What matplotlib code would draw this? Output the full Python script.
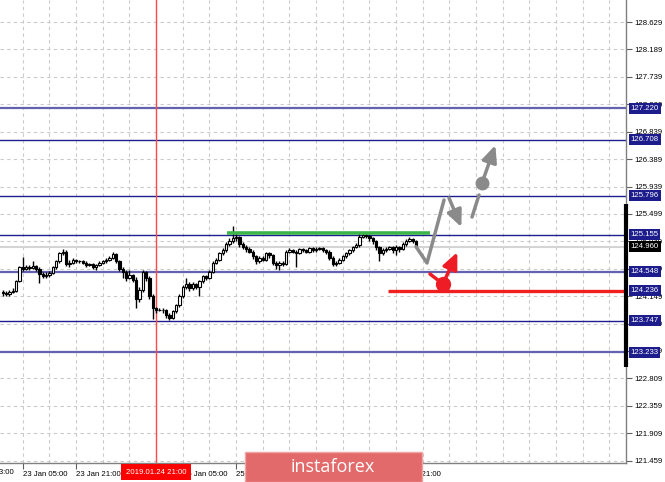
import numpy as np
import matplotlib
matplotlib.use('Agg')
import matplotlib.pyplot as plt
import matplotlib.transforms as mtransforms
from matplotlib.patches import Rectangle

plt.rcParams['font.family'] = ['Liberation Sans', 'DejaVu Sans']

# hourly candles, index 0 = 23 Jan 05:00
bar_start = -6
opens = [124.22, 124.20, 124.18, 124.22, 124.24, 124.40, 124.62, 124.60, 124.63, 124.61,
         124.64, 124.60, 124.52, 124.48, 124.50, 124.53, 124.62, 124.72, 124.85, 124.88,
         124.68, 124.70, 124.74, 124.73, 124.72, 124.70, 124.66, 124.67, 124.63, 124.66,
         124.70, 124.72, 124.75, 124.78, 124.84, 124.72, 124.60, 124.55, 124.45, 124.50,
         124.42, 124.10, 124.25, 124.55, 124.45, 124.15, 123.95, 123.92, 123.93, 123.92,
         123.85, 123.80, 123.90, 124.00, 124.15, 124.30, 124.35, 124.28, 124.35, 124.30,
         124.40, 124.48, 124.45, 124.55, 124.70, 124.75, 124.85, 124.90, 125.00, 125.05,
         125.10, 125.12, 125.00, 124.95, 124.92, 124.88, 124.80, 124.72, 124.78, 124.75,
         124.85, 124.82, 124.70, 124.66, 124.70, 124.68, 124.88, 124.90, 124.88, 124.86,
         124.92, 124.90, 124.88, 124.94, 124.90, 124.92, 124.93, 124.90, 124.88, 124.78,
         124.68, 124.70, 124.75, 124.80, 124.85, 124.90, 124.95, 124.98, 125.12, 125.15,
         125.13, 125.10, 125.05, 124.95, 124.85, 124.90, 124.92, 124.95, 124.90, 124.95,
         124.92, 125.00, 125.05, 125.08, 125.05]
highs = [124.25, 124.23, 124.25, 124.28, 124.42, 124.65, 124.79, 124.66, 124.66, 124.72,
         124.66, 124.62, 124.54, 124.54, 124.57, 124.64, 124.75, 124.88, 124.92, 124.90,
         124.75, 124.77, 124.76, 124.75, 124.74, 124.72, 124.70, 124.69, 124.68, 124.72,
         124.74, 124.77, 124.80, 124.88, 124.86, 124.74, 124.62, 124.58, 124.58, 124.52,
         124.46, 124.30, 124.58, 124.57, 124.48, 124.18, 123.97, 123.95, 123.95, 123.94,
         123.88, 123.92, 124.03, 124.18, 124.33, 124.45, 124.38, 124.38, 124.37, 124.42,
         124.50, 124.50, 124.58, 124.72, 124.78, 124.88, 124.93, 125.03, 125.10, 125.30,
         125.18, 125.14, 125.03, 124.98, 124.95, 124.90, 124.83, 124.80, 124.80, 124.88,
         124.88, 124.84, 124.72, 124.73, 124.72, 124.90, 124.93, 124.92, 124.90, 124.94,
         124.94, 124.92, 124.96, 124.96, 124.95, 124.96, 124.95, 124.92, 124.90, 124.80,
         124.73, 124.77, 124.82, 124.87, 124.92, 124.97, 125.02, 125.18, 125.20, 125.19,
         125.16, 125.12, 125.07, 124.97, 124.93, 124.95, 124.97, 124.97, 124.98, 124.97,
         125.03, 125.08, 125.12, 125.10, 125.07]
lows = [124.16, 124.15, 124.16, 124.20, 124.22, 124.38, 124.56, 124.58, 124.58, 124.59,
        124.57, 124.37, 124.45, 124.45, 124.47, 124.51, 124.60, 124.70, 124.82, 124.64,
        124.62, 124.68, 124.70, 124.70, 124.67, 124.63, 124.64, 124.60, 124.58, 124.64,
        124.68, 124.70, 124.73, 124.76, 124.70, 124.56, 124.45, 124.40, 124.43, 124.38,
        123.95, 124.05, 124.22, 124.40, 124.10, 123.78, 123.88, 123.90, 123.88, 123.80,
        123.76, 123.77, 123.88, 123.98, 124.12, 124.27, 124.24, 124.25, 124.26, 124.15,
        124.37, 124.42, 124.43, 124.53, 124.67, 124.72, 124.82, 124.88, 124.97, 125.02,
        125.05, 124.96, 124.92, 124.88, 124.85, 124.76, 124.68, 124.70, 124.72, 124.73,
        124.78, 124.66, 124.60, 124.58, 124.64, 124.66, 124.85, 124.85, 124.62, 124.84,
        124.87, 124.85, 124.86, 124.87, 124.88, 124.90, 124.87, 124.84, 124.74, 124.64,
        124.65, 124.68, 124.73, 124.78, 124.83, 124.88, 124.93, 124.96, 125.10, 125.10,
        125.06, 125.00, 124.90, 124.72, 124.82, 124.88, 124.90, 124.86, 124.82, 124.88,
        124.90, 124.97, 125.03, 125.02, 124.93]
closes = [124.20, 124.18, 124.22, 124.24, 124.40, 124.62, 124.60, 124.63, 124.61, 124.64,
          124.60, 124.52, 124.48, 124.50, 124.53, 124.62, 124.72, 124.85, 124.88, 124.68,
          124.70, 124.74, 124.73, 124.72, 124.70, 124.66, 124.67, 124.63, 124.66, 124.70,
          124.72, 124.75, 124.78, 124.84, 124.72, 124.60, 124.55, 124.45, 124.50, 124.42,
          124.10, 124.25, 124.55, 124.45, 124.15, 123.95, 123.92, 123.93, 123.92, 123.85,
          123.80, 123.90, 124.00, 124.15, 124.30, 124.35, 124.28, 124.35, 124.30, 124.40,
          124.48, 124.45, 124.55, 124.70, 124.75, 124.85, 124.90, 125.00, 125.05, 125.10,
          125.12, 125.00, 124.95, 124.92, 124.88, 124.80, 124.72, 124.78, 124.75, 124.85,
          124.82, 124.70, 124.66, 124.70, 124.68, 124.88, 124.90, 124.88, 124.86, 124.92,
          124.90, 124.88, 124.94, 124.90, 124.92, 124.93, 124.90, 124.88, 124.78, 124.68,
          124.70, 124.75, 124.80, 124.85, 124.90, 124.95, 124.98, 125.12, 125.15, 125.13,
          125.10, 125.05, 124.95, 124.85, 124.90, 124.92, 124.95, 124.90, 124.95, 124.92,
          125.00, 125.05, 125.08, 125.05, 124.96]

levels = [127.220, 126.708, 125.796, 125.155, 124.548, 123.747, 123.233]
level_light = [True, False, False, False, True, False, True]
support_red = 124.236
current_price = 124.960
resist_green = 125.183

price_ticks = [128.629, 128.189, 127.739, 127.289, 126.839, 126.389, 125.939, 125.499,
               125.049, 124.599, 124.149, 123.699, 123.259, 122.809, 122.359, 121.909, 121.459]
time_tick_pos = [0, 16, 32, 48, 64, 80, 96, 112]
time_tick_labels = ['23 Jan 05:00', '23 Jan 21:00', '24 Jan 13:00', '25 Jan 05:00',
                    '25 Jan 21:00', '28 Jan 13:00', '29 Jan 05:00', '29 Jan 21:00']
first_label_pos = -16
first_label = '22 Jan 13:00'
marker_bar = 40
marker_label = '2019.01.24 21:00'

# forecast sketch (bar index, price)
gray_path_x = [118, 121.3, 126.4]
gray_path_y = [124.96, 124.693, 125.723]
gray_arrow1 = [(127.9, 125.756), (131.6, 125.28)]
gray_seg_x = [134.8, 136.9]
gray_seg_y = [125.445, 125.805]
gray_dot = (137.8, 126.001)
gray_arrow2 = [(137.8, 126.001), (141.8, 126.62)]
red_path_x = [122.2, 126.1]
red_path_y = [124.513, 124.349]
red_dot = (126.1, 124.349)
red_arrow = [(126.1, 124.349), (130.4, 124.87)]

fig = plt.figure(figsize=(6.65, 4.82), dpi=100)
ax = fig.add_axes([0, 19 / 482, 626 / 665, 463 / 482])

# grid
grid_kw = dict(color='#cacaca', lw=0.8, ls=(0, (3, 3)), zorder=0)
for p in price_ticks:
    ax.axhline(p, **grid_kw)
for gx in range(-8, 182, 8):
    ax.axvline(gx, **grid_kw)

# levels
for lv, light in zip(levels, level_light):
    if light:
        ax.axhline(lv, color='#6262b0', lw=1.6, zorder=1)
    else:
        ax.axhline(lv, color='#1e1e8c', lw=1.0, zorder=1)
ax.axhline(current_price, color='#d4d4d4', lw=1.5, zorder=1)
ax.axvline(marker_bar, color='#ff4a4a', lw=1.0, zorder=1)

# candles
idx = np.arange(bar_start, bar_start + len(closes))
o = np.array(opens)
h = np.array(highs)
l = np.array(lows)
c = np.array(closes)
ax.vlines(idx, l, h, color='black', lw=1.0, zorder=3)
bull = c >= o
body_lo = np.minimum(o, c)
body_h = np.maximum(np.abs(c - o), 0.01)
ax.bar(idx[bull], body_h[bull], bottom=body_lo[bull], width=0.7, color='white',
       edgecolor='black', linewidth=0.8, zorder=4)
ax.bar(idx[~bull], body_h[~bull], bottom=body_lo[~bull], width=0.7, color='black',
       edgecolor='black', linewidth=0.8, zorder=4)

# green resistance and red support
ax.plot([61.3, 122.2], [resist_green, resist_green], color='#3cb54a', lw=2.6, zorder=5,
        solid_capstyle='butt')
ax.plot([109.6, 181.0], [support_red, support_red], color='#f02020', lw=2.4, zorder=5,
        solid_capstyle='butt')

# forecast sketch
gray = '#8a8a8a'
ax.plot(gray_path_x, gray_path_y, color=gray, lw=2.5, zorder=6, solid_capstyle='round')
ax.plot(gray_seg_x, gray_seg_y, color=gray, lw=2.5, zorder=6, solid_capstyle='round')
for (x0, y0), (x1, y1) in [gray_arrow1, gray_arrow2]:
    ax.annotate('', xy=(x1, y1), xytext=(x0, y0),
                arrowprops=dict(arrowstyle='-|>,head_length=1.0,head_width=0.45',
                                color=gray, lw=2.5, shrinkA=0, shrinkB=0), zorder=6)
ax.plot([gray_dot[0]], [gray_dot[1]], 'o', color=gray, ms=9, zorder=7)

red = '#ee1c24'
ax.plot(red_path_x, red_path_y, color=red, lw=2.5, zorder=6, solid_capstyle='round')
ax.annotate('', xy=red_arrow[1], xytext=red_arrow[0],
            arrowprops=dict(arrowstyle='-|>,head_length=1.0,head_width=0.45',
                            color=red, lw=2.5, shrinkA=0, shrinkB=0), zorder=6)
ax.plot([red_dot[0]], [red_dot[1]], 'o', color=red, ms=10, zorder=7)

# axes look
for s in ['left', 'top']:
    ax.spines[s].set_visible(False)
ax.spines['right'].set_color('#808080')
ax.spines['bottom'].set_color('#808080')
ax.spines['right'].set_linewidth(1.0)
ax.spines['bottom'].set_linewidth(1.0)
ax.yaxis.tick_right()
ax.set_yticks(price_ticks)
ax.set_yticklabels([f'{p:.3f}' for p in price_ticks], fontsize=5.6)
ax.tick_params(axis='y', direction='out', length=4, width=0.8, pad=2, color='#606060')
ax.set_xticks(time_tick_pos)
ax.set_xticklabels(time_tick_labels, fontsize=5.6, ha='left')
ax.tick_params(axis='x', direction='out', length=4, width=0.8, pad=2, color='#606060')
ax.set_xlim(-6.81, 181.0)
ax.set_ylim(121.422, 128.994)

# the first time label sits partly off the left edge
ax.text(first_label_pos, -0.0195, first_label, transform=ax.get_xaxis_transform(),
        fontsize=5.6, ha='left', va='center', clip_on=False)

# black range bar on the price axis
ax.plot([1.0, 1.0], [125.658, 122.992], transform=ax.get_yaxis_transform(),
        color='black', lw=3, clip_on=False, zorder=8, solid_capstyle='butt')

# level labels on the price axis
off = mtransforms.offset_copy(ax.get_yaxis_transform(), fig=fig, x=4.5, y=0, units='dots')
for lv in levels + [support_red]:
    ax.text(1.0, lv, f'{lv:.3f}', transform=off, fontsize=5.6, color='white',
            ha='left', va='center', clip_on=False, zorder=20,
            bbox=dict(boxstyle='square,pad=0.25', fc='#1c1c8c', ec='none'))
ax.text(1.0, current_price, f'{current_price:.3f}', transform=off, fontsize=5.6,
        color='white', ha='left', va='center', clip_on=False, zorder=20,
        bbox=dict(boxstyle='square,pad=0.25', fc='black', ec='none'))

# highlighted date on the time axis
ax.text(marker_bar, -0.0195, marker_label, transform=ax.get_xaxis_transform(),
        fontsize=5.6, color='white', ha='center', va='center', clip_on=False, zorder=20,
        bbox=dict(boxstyle='square,pad=0.55', fc='#ff0000', ec='none'))

# watermark
fig.patches.append(Rectangle((245 / 665, 0), 177 / 665, 30 / 482, transform=fig.transFigure,
                             fc='#e36a6a', ec='#f0a4a4', lw=1, zorder=30))
fig.text(333 / 665, 15 / 482, 'instaforex', color='white', fontsize=13,
         family='Open Sans', ha='center', va='center', zorder=31)

fig.savefig('out.png', dpi=100, facecolor='white')
